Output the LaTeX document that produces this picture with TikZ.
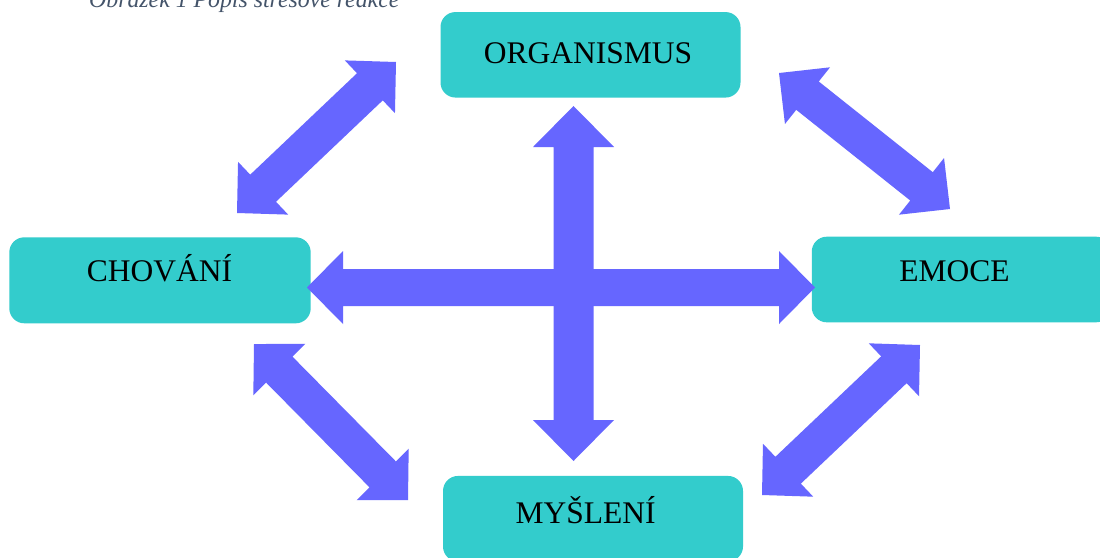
\documentclass[tikz,border=0pt]{standalone}
\usepackage{fontspec}
\setmainfont{Liberation Serif}
\usetikzlibrary{calc}
\definecolor{boxcol}{HTML}{33CCCC}
\definecolor{arrcol}{HTML}{6666FF}
\definecolor{capcol}{HTML}{44546A}
% double block arrow between two tip coordinates
% #1,#2 tip names, #3 shaft half width, #4 head half width, #5 head length
\newcommand\dblarrow[5]{%
  \coordinate (#1h) at ($(#1)!#5!(#2)$);
  \coordinate (#2h) at ($(#2)!#5!(#1)$);
  \fill[arrowfill] (#1)
    -- ($(#1h)!#4!90:(#2)$) -- ($(#1h)!#3!90:(#2)$)
    -- ($(#2h)!#3!-90:(#1)$) -- ($(#2h)!#4!-90:(#1)$)
    -- (#2)
    -- ($(#2h)!#4!90:(#1)$) -- ($(#2h)!#3!90:(#1)$)
    -- ($(#1h)!#3!-90:(#2)$) -- ($(#1h)!#4!-90:(#2)$) -- cycle;
}
\begin{document}
\begin{tikzpicture}[x=1pt,y=-1pt,
  box/.style={fill=boxcol, draw=none, rounded corners=15pt, inner sep=0pt},
  lbl/.style={anchor=base, inner sep=0pt, font=\fontsize{31.5}{36}\selectfont, text=black},
  arrowfill/.style={fill=arrcol}]
\clip (0,0) rectangle (1100,557);
\useasboundingbox (0,0) rectangle (1100,557);
\fill[white] (0,0) rectangle (1100,557);

% caption (cut at top)
\node[anchor=base west, inner sep=0pt, font=\itshape\fontsize{23.8}{28}\selectfont, text=capcol] (cap) at (89,7) {Obrázek 1 Popis stresové reakce};

% boxes
\node[box, minimum width=300pt, minimum height=85.5pt] (org) at (590.5,54.8) {};
\node[box, minimum width=301.4pt, minimum height=86pt] (cho) at (160,280.3) {};
\node[box, minimum width=299.3pt, minimum height=85.6pt] (emo) at (961.4,279.5) {};
\node[box, minimum width=300pt, minimum height=85.5pt] (mys) at (593,518.7) {};

% labels
\node[lbl] (orgt) at (588,63) {ORGANISMUS};
\node[lbl] (chot) at (159.5,281) {CHOVÁNÍ};
\node[lbl] (emot) at (954.5,281) {EMOCE};
\node[lbl] (myst) at (585.5,523) {MYŠLENÍ};

% arrow tips
\coordinate (hL) at (307,287.5);
\coordinate (hR) at (815,287.5);
\coordinate (vT) at (573.5,106);
\coordinate (vB) at (573.5,461);
\coordinate (tlA) at (237,213);
\coordinate (tlB) at (396,62);
\coordinate (trA) at (779,73);
\coordinate (trB) at (950,209);
\coordinate (blA) at (254,344);
\coordinate (blB) at (408,500);
\coordinate (brA) at (762,495);
\coordinate (brB) at (920,345);

\dblarrow{hL}{hR}{18.5pt}{36.5pt}{36pt}
\dblarrow{vT}{vB}{20pt}{40.5pt}{41pt}
\dblarrow{tlA}{tlB}{18.7pt}{36.4pt}{36pt}
\dblarrow{trA}{trB}{18.1pt}{36.2pt}{36.4pt}
\dblarrow{blA}{blB}{18.5pt}{36.5pt}{36pt}
\dblarrow{brA}{brB}{18.5pt}{36.5pt}{36pt}
\end{tikzpicture}
\end{document}
